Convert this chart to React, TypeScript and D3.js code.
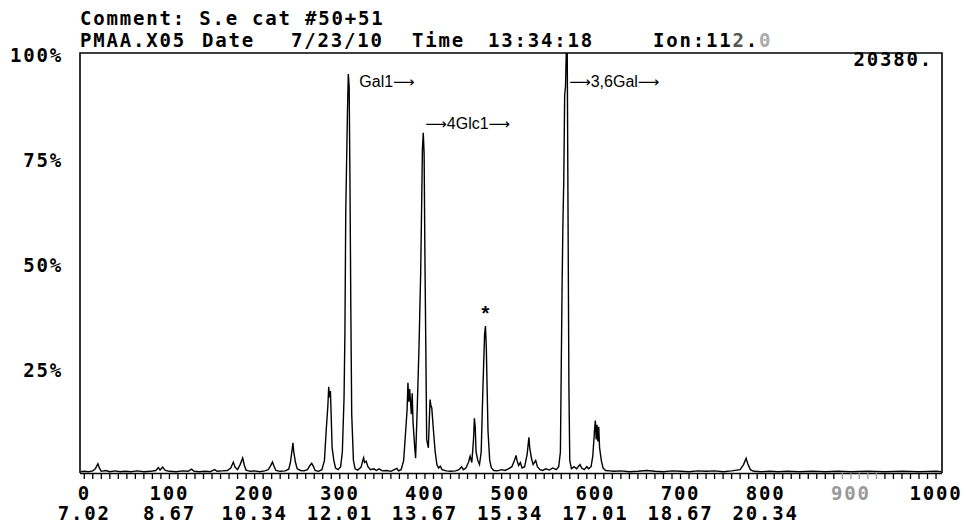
import React from "react";
import { scaleLinear, line, range } from "d3";

// scan numbers on top row, retention minutes under them
const scanTicks = [0, 100, 200, 300, 400, 500, 600, 700, 800, 900, 1000];
const timeLabels = ["7.02", "8.67", "10.34", "12.01", "13.67", "15.34", "17.01", "18.67", "20.34"];
const pctTicks = [25, 50, 75, 100];

// peak annotations: [scan, pct of label baseline, arrow before, name, arrow after]
const peakLabels: [number, number, boolean, string, boolean][] = [
  [310, 92, false, "Gal1", true],
  [398, 82, true, "4Glc1", true],
  [567, 92, true, "3,6Gal", true],
];
const starPeak = 471;

// ion 112 trace: [scan, % of 20380]
const trace: [number, number][] = [
  [-4, 0.3], [0, 0.4], [5, 0.3], [10, 0.5], [13, 1.0], [16, 2.2], [18, 1.1], [20, 0.4],
  [25, 0.6], [30, 0.3], [36, 0.5], [42, 0.3], [48, 0.4], [55, 0.3], [62, 0.5], [70, 0.3],
  [78, 0.4], [84, 0.6], [87, 1.3], [89, 0.7], [92, 1.4], [95, 0.6], [100, 0.4], [108, 0.3],
  [115, 0.5], [122, 0.4], [126, 0.9], [129, 0.4], [135, 0.3], [142, 0.4], [148, 0.3],
  [153, 0.8], [156, 0.4], [162, 0.5], [168, 0.6], [172, 1.2], [175, 2.6], [177, 1.4],
  [180, 0.8], [183, 2.0], [186, 3.6], [188, 1.8], [190, 0.7], [195, 0.4], [200, 0.5],
  [206, 0.3], [212, 0.5], [216, 0.8], [219, 1.8], [221, 2.6], [223, 1.5], [225, 0.6],
  [230, 0.4], [236, 0.5], [240, 0.9], [242, 2.5], [244, 5.5], [245, 7.2], [246, 5.0],
  [248, 2.5], [250, 1.0], [254, 0.6], [258, 0.5], [262, 0.8], [265, 1.8], [267, 2.3],
  [269, 1.6], [271, 0.6], [275, 0.4], [279, 0.8], [282, 3.0], [284, 10.0], [286, 16.0],
  [287, 20.5], [288, 18.0], [289, 19.5], [290, 13.0], [291, 6.0], [293, 3.0], [295, 1.2],
  [298, 0.8], [301, 1.5], [303, 5.0], [305, 18.0], [306, 33.0], [307, 62.0], [308, 74.0],
  [309, 86.0], [310, 95.0], [311, 92.0], [312, 68.0], [313, 38.0], [314, 14.0], [316, 3.0],
  [318, 1.0], [321, 0.7], [325, 1.4], [327, 3.0], [328, 3.6], [329, 2.5], [331, 2.8],
  [333, 1.5], [336, 0.8], [340, 1.0], [343, 0.6], [346, 1.0], [350, 0.5], [355, 0.6],
  [360, 0.4], [364, 0.8], [367, 1.1], [369, 0.5], [372, 0.8], [375, 3.0], [377, 9.0],
  [379, 15.0], [380, 21.5], [381, 17.0], [382, 20.0], [384, 14.0], [385, 19.0], [386, 12.0],
  [388, 6.0], [389, 3.5], [391, 16.0], [393, 30.0], [395, 48.0], [397, 77.0], [398, 81.0],
  [399, 76.0], [400, 50.0], [401, 30.0], [402, 8.0], [404, 6.0], [405, 12.0], [406, 17.5],
  [407, 16.0], [408, 15.5], [410, 10.0], [412, 5.0], [414, 2.0], [416, 1.2], [418, 1.6],
  [420, 0.8], [425, 0.5], [430, 0.4], [436, 0.5], [440, 0.8], [443, 1.5], [445, 0.8],
  [448, 1.2], [451, 2.5], [453, 4.0], [455, 2.5], [457, 8.0], [458, 13.0], [459, 11.0],
  [460, 5.0], [462, 3.0], [464, 2.0], [466, 5.0], [468, 20.0], [470, 33.0], [471, 35.0],
  [472, 30.0], [473, 20.0], [474, 10.0], [476, 3.0], [478, 1.2], [481, 0.6], [485, 0.5],
  [490, 0.8], [494, 0.6], [498, 1.0], [502, 1.5], [505, 3.0], [507, 4.2], [508, 3.0],
  [510, 1.8], [512, 2.5], [514, 1.2], [517, 1.5], [520, 4.5], [522, 8.5], [523, 6.0],
  [525, 3.5], [527, 2.0], [530, 3.0], [532, 1.5], [535, 0.8], [538, 0.6], [542, 1.0],
  [546, 0.7], [550, 1.2], [554, 0.8], [557, 1.5], [559, 5.0], [560, 25.0], [561, 45.0],
  [562, 60.0], [563, 70.0], [564, 90.0], [565, 92.0], [566, 101], [567, 101], [568, 60.0],
  [569, 20.0], [570, 3.0], [572, 1.0], [575, 1.5], [578, 1.0], [582, 2.0], [584, 1.2],
  [587, 0.8], [590, 1.5], [592, 1.0], [595, 1.5], [597, 4.0], [599, 10.0], [600, 12.5],
  [601, 8.0], [602, 11.5], [603, 7.5], [604, 11.0], [605, 6.0], [607, 3.0], [609, 1.2],
  [612, 0.6], [617, 0.5], [622, 0.4], [630, 0.5], [640, 0.3], [650, 0.4], [660, 0.6],
  [670, 0.4], [680, 0.3], [690, 0.5], [700, 0.4], [710, 0.3], [720, 0.5], [730, 0.4],
  [740, 0.5], [750, 0.3], [760, 0.5], [770, 0.8], [774, 2.0], [777, 3.5], [779, 2.2],
  [782, 0.8], [786, 0.4], [795, 0.3], [805, 0.4], [815, 0.3], [825, 0.4], [840, 0.3],
  [855, 0.4], [870, 0.3], [885, 0.4], [900, 0.3], [920, 0.4], [940, 0.3], [960, 0.4],
  [980, 0.3], [1000, 0.4], [1006, 0.3],
];

const W = 966;
const H = 530;
const left = 80, right = 942, top = 53, bottom = 473;

const mono = "'DejaVu Sans Mono', monospace";
const monoStyle = { fontFamily: mono, fontWeight: 700, fontSize: 19, letterSpacing: 1.8 };
const sans = "'Liberation Sans', Arial, sans-serif";

export default function App() {
  const x = scaleLinear().domain([-5, 1007]).range([left, right]);
  const y = scaleLinear().domain([0, 100]).range([bottom, top]);

  const path = line<[number, number]>()
    .x(d => x(d[0]))
    .y(d => y(d[1]))(trace);

  const minor = range(0, 1001, 10);

  return (
    <svg width={W} height={H} style={{ display: "block", position: "absolute", left: 0, top: 0, background: "#fff" }}>
      <defs>
        <clipPath id="plot">
          <rect x={left} y={top} width={right - left} height={bottom - top + 1} />
        </clipPath>
      </defs>

      {/* header */}
      <text x={80} y={25} style={monoStyle}>Comment: S.e cat #50+51</text>
      <g style={monoStyle}>
        <text x={80} y={47}>PMAA.X05</text>
        <text x={202} y={47}>Date</text>
        <text x={291} y={47}>7/23/10</text>
        <text x={412} y={47}>Time</text>
        <text x={488} y={47}>13:34:18</text>
        <text x={653} y={47}>
          Ion:11<tspan fill="#555">2</tspan>.<tspan fill="#aaa">0</tspan>
        </text>
      </g>

      {/* frame */}
      <path d={`M${left},${bottom}V${top}H${right}V${bottom}`} fill="none" stroke="#000" strokeWidth={1.6} />
      <line x1={left} x2={right} y1={bottom + 0.5} y2={bottom + 0.5} stroke="#000" strokeWidth={1.6} />

      {/* x ticks */}
      {minor.map(v => (
        <line key={v} x1={x(v)} x2={x(v)} y1={bottom} y2={bottom + 6}
          stroke={v > 880 && v < 935 ? "#999" : "#000"} strokeWidth={1.3} />
      ))}
      {scanTicks.map(v => (
        <text key={v} x={x(v)} y={500} textAnchor="middle" style={monoStyle}
          fill={v === 900 ? "#999" : "#000"}>{v}</text>
      ))}
      {timeLabels.map((t, i) => (
        <text key={t} x={x(scanTicks[i])} y={520} textAnchor="middle" style={monoStyle}>{t}</text>
      ))}

      {/* y labels */}
      {pctTicks.map(v => (
        <text key={v} x={63} y={y(v) + 3} textAnchor="end" dominantBaseline="middle" style={monoStyle}>{v}%</text>
      ))}

      <text x={933} y={66} textAnchor="end" style={monoStyle}>20380.</text>

      {/* trace */}
      <path d={path || ""} fill="none" stroke="#000" strokeWidth={1.4} clipPath="url(#plot)" />

      {/* annotations */}
      {peakLabels.map(([s, p, pre, name, post]) => (
        <text key={name} x={x(s) + (pre ? 2 : 11)} y={y(p)} fontFamily={sans} fontSize={16} fill="#000">
          {pre && <tspan fontFamily="'DejaVu Sans', sans-serif" fontSize={15}>⟶</tspan>}
          {name}
          {post && <tspan fontFamily="'DejaVu Sans', sans-serif" fontSize={15}>⟶</tspan>}
        </text>
      ))}
      <text x={x(starPeak)} y={y(36) - 2} textAnchor="middle" fontFamily={sans} fontSize={20} fontWeight={700}>*</text>
    </svg>
  );
}
